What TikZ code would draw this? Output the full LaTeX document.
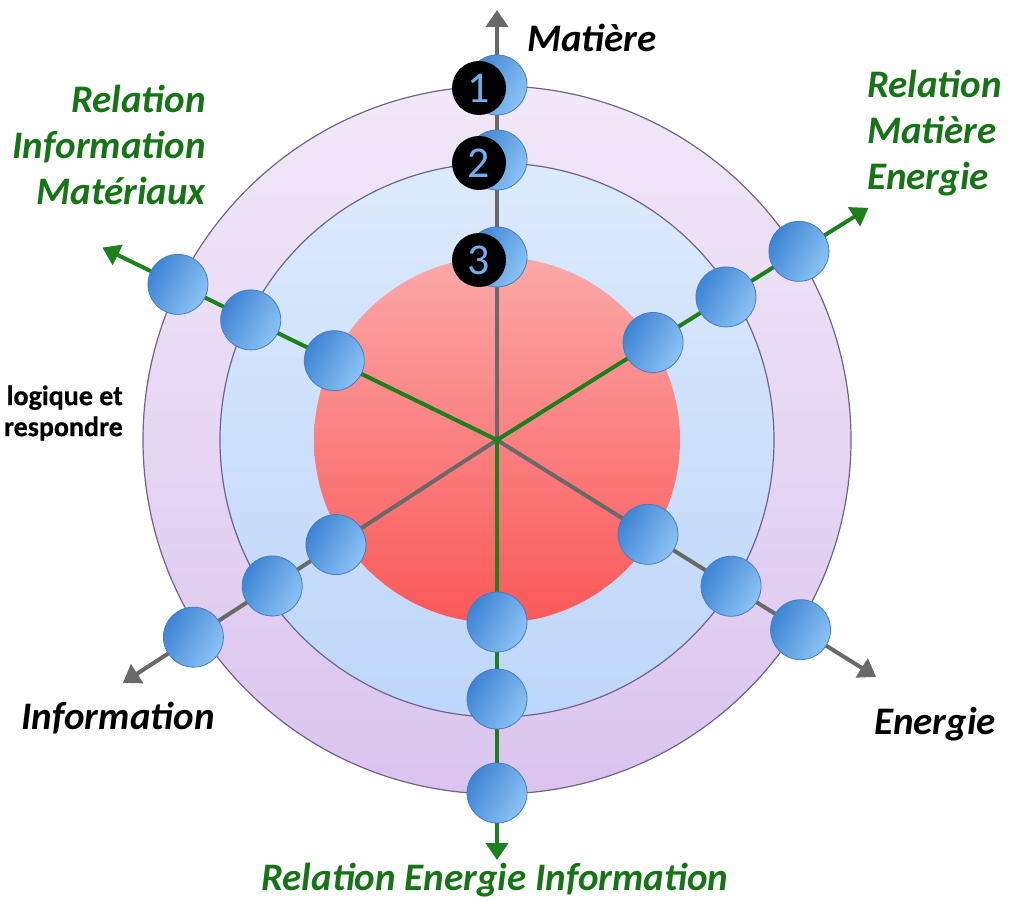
\documentclass[tikz,border=0pt]{standalone}
\usepackage{fontspec}
\setmainfont{Carlito}[BoldFeatures={FakeBold=0.6}]
\usetikzlibrary{arrows.meta}
\definecolor{axgreen}{RGB}{28,128,28}
\definecolor{txtgreen}{RGB}{22,115,22}
\definecolor{axgray}{RGB}{105,105,105}
\definecolor{outerTop}{RGB}{242,232,249}
\definecolor{outerBot}{RGB}{218,196,238}
\definecolor{ringline}{RGB}{110,100,135}
\definecolor{midTop}{RGB}{220,234,252}
\definecolor{midBot}{RGB}{190,214,250}
\definecolor{redTop}{RGB}{252,168,168}
\definecolor{redBot}{RGB}{250,88,88}
\definecolor{ballL}{RGB}{62,132,212}
\definecolor{ballR}{RGB}{140,195,245}
\definecolor{ballD}{RGB}{70,125,190}
\definecolor{numblue}{RGB}{110,175,235}
\tikzset{
  ball/.style={circle,minimum size=60pt,inner sep=0pt,draw=ballD,line width=0.8pt,
    left color=ballL,right color=ballR,shading angle=60},
  numdot/.style={circle,minimum size=54pt,inner sep=0pt,fill=black,text=numblue,
    font=\fontsize{44}{44}\selectfont},
  greenaxis/.style={draw=axgreen,line width=4pt,-{Triangle[width=22pt,length=17pt]}},
  grayaxis/.style={draw=axgray,line width=4pt,-{Triangle[width=22pt,length=17pt]}},
  biglabel/.style={font=\fontsize{39}{46}\selectfont\bfseries\itshape,inner sep=0pt},
  smalllabel/.style={font=\fontsize{28}{31}\selectfont\bfseries,inner sep=0pt,align=right}
}
\begin{document}
\begin{tikzpicture}[x=1pt,y=1pt]
\useasboundingbox (0,0) rectangle (1009,900);
\coordinate (O) at (497,460);
% disks
\shade[top color=outerTop,bottom color=outerBot,draw=ringline,line width=1.2pt] (O) circle (354);
\shade[top color=midTop,bottom color=midBot,draw=ringline,line width=1.2pt] (O) circle (277);
\shade[top color=redTop,bottom color=redBot] (O) circle (183);
% tips
\coordinate (tM) at ([shift={(90:430)}]O);
\coordinate (tRME) at ([shift={(32:438)}]O);
\coordinate (tE) at ([shift={(-32:447)}]O);
\coordinate (tREI) at ([shift={(270:420)}]O);
\coordinate (tI) at ([shift={(213:446)}]O);
\coordinate (tRIM) at ([shift={(154:439)}]O);
% axes
\draw[grayaxis] (O) -- (tM);
\draw[grayaxis] (O) -- (tE);
\draw[grayaxis] (O) -- (tI);
\draw[greenaxis] (O) -- (tRME);
\draw[greenaxis] (O) -- (tREI);
\draw[greenaxis] (O) -- (tRIM);
\fill[axgreen] (O) circle (3.5);
% balls
\node[ball] (M1) at ([shift={(90:355)}]O) {};
\node[ball] (M2) at ([shift={(90:280)}]O) {};
\node[ball] (M3) at ([shift={(90:183)}]O) {};
\node[ball] (R1) at ([shift={(32:356)}]O) {};
\node[ball] (R2) at ([shift={(32:270)}]O) {};
\node[ball] (R3) at ([shift={(32:184)}]O) {};
\node[ball] (E1) at ([shift={(-32:358)}]O) {};
\node[ball] (E2) at ([shift={(-32:276)}]O) {};
\node[ball] (E3) at ([shift={(-32:178)}]O) {};
\node[ball] (D1) at ([shift={(270:353)}]O) {};
\node[ball] (D2) at ([shift={(270:259)}]O) {};
\node[ball] (D3) at ([shift={(270:182)}]O) {};
\node[ball] (I1) at ([shift={(213:362)}]O) {};
\node[ball] (I2) at ([shift={(213:268)}]O) {};
\node[ball] (I3) at ([shift={(213:192)}]O) {};
\node[ball] (L1) at ([shift={(154:355)}]O) {};
\node[ball] (L2) at ([shift={(154:274)}]O) {};
\node[ball] (L3) at ([shift={(154:181)}]O) {};
% numbered dots
\node[numdot] (n1) at ([shift={(-18,-3)}]M1) {1};
\node[numdot] (n2) at ([shift={(-18,-3)}]M2) {2};
\node[numdot] (n3) at ([shift={(-18,-3)}]M3) {3};
% labels
\node[biglabel,anchor=west] (lM) at (527,862) {Matière};
\node[biglabel,text=txtgreen,anchor=west,align=left] (lRME) at (867,767) {Relation\\Matière\\Energie};
\node[biglabel,text=txtgreen,anchor=east,align=right] (lRIM) at (206,755) {Relation\\Information\\Matériaux};
\node[smalllabel,anchor=east] (lLog) at (123,487) {logique et\\respondre};
\node[biglabel] (lI) at (118,182) {Information};
\node[biglabel] (lE) at (935,176) {Energie};
\node[biglabel,text=txtgreen] (lREI) at (495,20) {Relation Energie Information};
\end{tikzpicture}
\end{document}
